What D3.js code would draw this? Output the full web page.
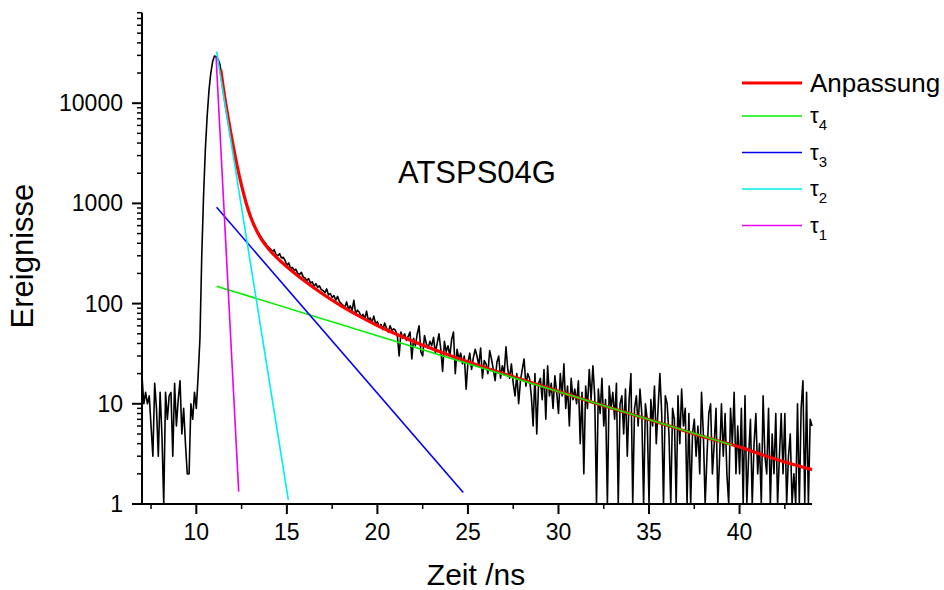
<!DOCTYPE html>
<html>
<head>
<meta charset="utf-8">
<script src="https://cdn.jsdelivr.net/npm/d3@7"></script>
<style>
  html, body { margin: 0; padding: 0; background: #fff; }
  svg { display: block; font-family: 'Liberation Sans', Arial, sans-serif; }
</style>
</head>
<body>
<div id="chart"></div>
<script>
// measured decay histogram, one channel every 0.1 ns starting at 7.0 ns
const channelStart = 7.0;
const channelWidth = 0.1;
const counts = [
  19, 10, 13, 10, 12, 6, 3, 16, 9, 3,                              // 7
  13, 5, 0, 13, 7, 12, 13, 3, 16, 6,                               // 8
  11, 17, 5, 9, 4, 2, 2, 10, 7, 13,                                // 9
  9, 19, 45, 300, 1200, 3500, 7500, 13500, 20000, 26000,           // 10
  29500, 29000, 27500, 24500, 19000, 14000, 10800, 8300, 6500, 5100, // 11
  4050, 3250, 2650, 2170, 1800, 1500, 1280, 1100, 960, 850,        // 12
  745, 675, 615, 565, 520, 485, 455, 425, 405, 380,                // 13
  365, 350, 330, 345, 310, 300, 315, 285, 290, 270,                // 14
  240, 255, 225, 230, 215, 220, 200, 195, 205, 185,                // 15
  180, 170, 178, 160, 165, 150, 158, 145, 150, 138,                // 16
  135, 128, 140, 122, 126, 115, 120, 108, 118, 105,                // 17
  100, 96, 92, 104, 88, 95, 85, 108, 80, 86,                       // 18
  82, 74, 78, 70, 84, 68, 72, 65, 75, 63,                          // 19
  66, 58, 62, 55, 64, 57, 52, 60, 54, 56,                          // 20
  54, 48, 30, 52, 45, 50, 43, 47, 52, 28,                          // 21
  45, 38, 50, 60, 33, 30, 48, 40, 36, 42,                          // 22
  38, 46, 32, 40, 50, 35, 21, 42, 33, 38,                          // 23
  30, 44, 52, 20, 35, 28, 32, 25, 30, 14,                          // 24
  26, 32, 22, 29, 35, 30, 24, 36, 18, 27,                          // 25
  25, 20, 34, 28, 22, 17, 26, 30, 18, 24,                          // 26
  20, 37, 22, 18, 25, 16, 12, 20, 10, 17,                          // 27
  22, 28, 15, 20, 18, 12, 6, 20, 5, 16,                            // 28
  18, 11, 22, 7, 24, 12, 16, 9, 19, 13,                            // 29
  8, 20, 12, 25, 9, 15, 6, 18, 11, 14,                             // 30
  10, 17, 4, 13, 2, 15, 9, 22, 11, 24,                             // 31
  12, 0, 14, 8, 18, 6, 11, 0, 15, 9,                               // 32
  13, 7, 16, 0, 10, 12, 5, 14, 3, 11,                              // 33
  20, 0, 9, 12, 6, 14, 8, 0, 10, 7,                                // 34
  0, 11, 6, 15, 4, 9, 20, 8, 0, 12,                                // 35
  10, 5, 0, 9, 7, 0, 12, 4, 14, 6,                                 // 36
  9, 0, 8, 0, 5, 7, 3, 6, 2, 13,                                   // 37
  5, 0, 3, 8, 10, 2, 4, 9, 0, 3,                                   // 38
  10, 3, 8, 2, 0, 9, 4, 13, 2, 6,                                  // 39
  2, 9, 0, 12, 0, 3, 7, 0, 4, 8,                                   // 40
  2, 4, 1, 12, 3, 2, 9, 0, 5, 2,                                   // 41
  8, 1, 3, 8, 2, 8, 0, 3, 5, 1,                                    // 42
  2, 0, 10, 0, 9, 17, 0, 13, 0, 7,                                 // 43
  6                                                                // 44
];

// fitted curve (Anpassung)
const fitTimes = [11.35, 11.5, 11.75, 12, 12.25, 12.5, 12.75, 13, 13.5, 14, 14.5, 15, 16, 17, 18, 19, 20, 22, 24, 26, 28, 30, 32, 34, 36, 38, 40, 42, 44];
const fitValues = [21570, 13870, 7260, 4060, 2390, 1500, 1010, 732, 467, 349, 281, 233, 167, 124, 95, 75, 60.4, 41.8, 30.4, 22.8, 17.4, 13.3, 10.2, 7.9, 6.1, 4.7, 3.7, 2.8, 2.2];

// single exponential components, start and end of each straight line
const tauLabels = ['4', '3', '2', '1'];
const tauStartTime = [11.12, 11.12, 11.12, 11.09];
const tauEndTime = [39.56, 24.74, 15.08, 12.34];
const tauStartValue = [149, 914, 32700, 29150];
const tauEndValue = [3.88, 1.3, 1.1, 1.33];
const tauColors = ['#00ee00', '#0000ee', '#00eeee', '#ee00ee'];

const xTicks = [10, 15, 20, 25, 30, 35, 40];
const xMinorTicks = [7.5, 12.5, 17.5, 22.5, 27.5, 32.5, 37.5, 42.5];
const yTicks = [1, 10, 100, 1000, 10000];

const width = 944, height = 590;
const plotLeft = 142, plotRight = 812, plotTop = 12.7, plotBottom = 504;

const svg = d3.select('#chart').append('svg')
  .attr('width', width)
  .attr('height', height);

const x = d3.scaleLinear().domain([7, 44]).range([plotLeft, plotRight]);
const y = d3.scaleLog().domain([1, 80000]).range([plotBottom, plotTop]);

const font = "'Liberation Sans', Arial, sans-serif";

// minor log ticks: 2..9 of each decade up to 80000
const yMinor = [];
for (let d = 1; d <= 10000; d *= 10) {
  for (let m = 2; m <= 9; m++) {
    if (d * m <= 80000) yMinor.push(d * m);
  }
}

// Y axis
const yAxis = svg.append('g').attr('transform', `translate(${plotLeft},0)`);
yAxis.append('line')
  .attr('x1', 0).attr('x2', 0)
  .attr('y1', plotTop).attr('y2', plotBottom + 1)
  .attr('stroke', '#000').attr('stroke-width', 2);
yAxis.selectAll('.ymin').data(yMinor).enter().append('line')
  .attr('x1', -5).attr('x2', 0)
  .attr('y1', d => y(d)).attr('y2', d => y(d))
  .attr('stroke', '#000').attr('stroke-width', 1.5);
yAxis.selectAll('.ymaj').data(yTicks).enter().append('line')
  .attr('x1', -10).attr('x2', 0)
  .attr('y1', d => y(d)).attr('y2', d => y(d))
  .attr('stroke', '#000').attr('stroke-width', 2);
yAxis.selectAll('.ylab').data(yTicks).enter().append('text')
  .attr('x', -19)
  .attr('y', d => y(d) + 8)
  .attr('text-anchor', 'end')
  .style('font-family', font)
  .style('font-size', '23px')
  .text(d => d);

// X axis
const xAxis = svg.append('g').attr('transform', `translate(0,${plotBottom})`);
xAxis.append('line')
  .attr('x1', plotLeft - 1).attr('x2', plotRight)
  .attr('y1', 0).attr('y2', 0)
  .attr('stroke', '#000').attr('stroke-width', 2);
xAxis.selectAll('.xmin').data(xMinorTicks).enter().append('line')
  .attr('x1', d => x(d)).attr('x2', d => x(d))
  .attr('y1', 0).attr('y2', 5)
  .attr('stroke', '#000').attr('stroke-width', 1.5);
xAxis.selectAll('.xmaj').data(xTicks).enter().append('line')
  .attr('x1', d => x(d)).attr('x2', d => x(d))
  .attr('y1', 0).attr('y2', 10)
  .attr('stroke', '#000').attr('stroke-width', 2);
xAxis.selectAll('.xlab').data(xTicks).enter().append('text')
  .attr('x', d => x(d))
  .attr('y', 36)
  .attr('text-anchor', 'middle')
  .style('font-family', font)
  .style('font-size', '23px')
  .text(d => d);

// axis titles
svg.append('text')
  .attr('x', 476).attr('y', 585)
  .attr('text-anchor', 'middle')
  .style('font-family', font)
  .style('font-size', '30px')
  .text('Zeit /ns');

svg.append('text')
  .attr('transform', 'translate(33,256) rotate(-90)')
  .attr('text-anchor', 'middle')
  .style('font-family', font)
  .style('font-size', '31px')
  .text('Ereignisse');

// plot area
const plot = svg.append('g');
const yc = v => y(Math.max(v, 1));

const dataLine = d3.line()
  .x((d, i) => x(channelStart + i * channelWidth))
  .y(d => yc(d));

plot.append('path')
  .datum(counts)
  .attr('d', dataLine)
  .attr('fill', 'none')
  .attr('stroke', '#000')
  .attr('stroke-width', 1.6)
  .attr('stroke-linejoin', 'round');

const fitLine = d3.line()
  .x(d => x(d[0]))
  .y(d => yc(d[1]))
  .curve(d3.curveMonotoneX);

plot.append('path')
  .datum(fitTimes.map((t, i) => [t, fitValues[i]]))
  .attr('d', fitLine)
  .attr('fill', 'none')
  .attr('stroke', '#ff0000')
  .attr('stroke-width', 3.2);

tauLabels.forEach((lab, i) => {
  plot.append('line')
    .attr('x1', x(tauStartTime[i])).attr('y1', y(tauStartValue[i]))
    .attr('x2', x(tauEndTime[i])).attr('y2', y(tauEndValue[i]))
    .attr('stroke', tauColors[i])
    .attr('stroke-width', 1.6);
});

// sample name
svg.append('text')
  .attr('x', 477).attr('y', 183)
  .attr('text-anchor', 'middle')
  .style('font-family', font)
  .style('font-size', '31px')
  .text('ATSPS04G');

// legend
const legend = svg.append('g').attr('class', 'legend');
legend.append('line')
  .attr('x1', 742).attr('x2', 802)
  .attr('y1', 83).attr('y2', 83)
  .attr('stroke', '#ff0000').attr('stroke-width', 3);
legend.append('text')
  .attr('x', 810).attr('y', 92)
  .style('font-family', font)
  .style('font-size', '26px')
  .text('Anpassung');

tauLabels.forEach((lab, i) => {
  const ly = 116 + i * 36.5;
  legend.append('line')
    .attr('x1', 742).attr('x2', 802)
    .attr('y1', ly).attr('y2', ly)
    .attr('stroke', tauColors[i]).attr('stroke-width', 1.6);
  const t = legend.append('text')
    .attr('x', 810).attr('y', ly + 7)
    .style('font-family', font)
    .style('font-size', '22px');
  t.append('tspan').text('τ');
  t.append('tspan')
    .attr('dy', 7)
    .style('font-size', '15px')
    .text(lab);
});
</script>
</body>
</html>
